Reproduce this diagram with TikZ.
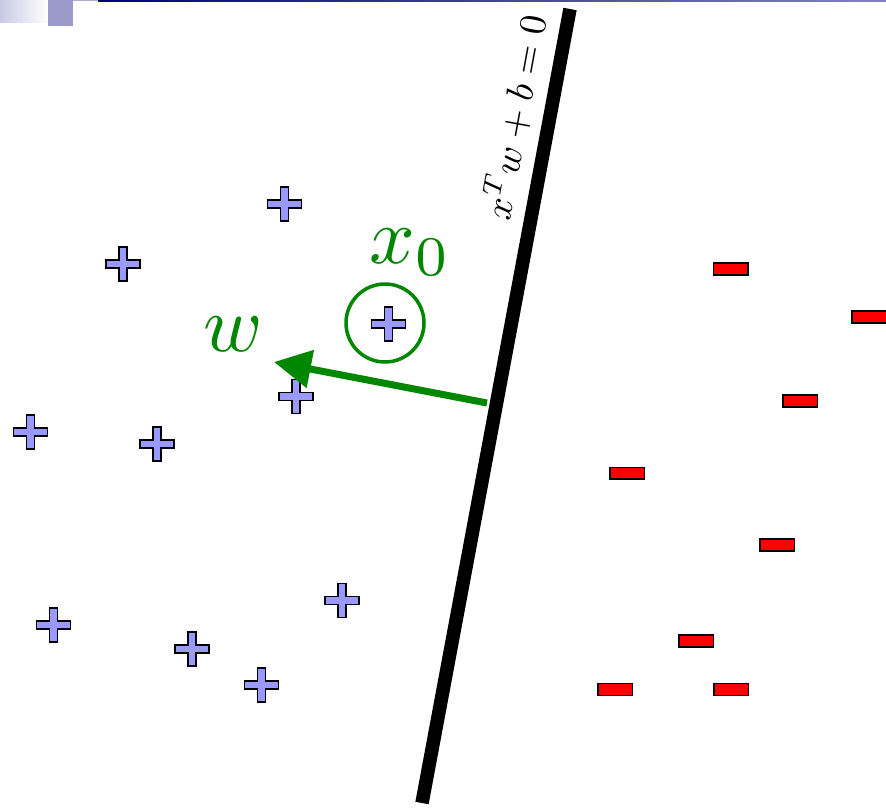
\documentclass[tikz,border=0pt]{standalone}
\usetikzlibrary{arrows.meta}
\definecolor{plusblue}{RGB}{153,153,255}
\definecolor{minusred}{RGB}{255,0,0}
\definecolor{svmgreen}{RGB}{0,135,0}
\definecolor{barlav}{RGB}{200,202,228}
\definecolor{sqlav}{RGB}{153,153,204}
\definecolor{navyline}{RGB}{0,0,128}
\definecolor{navyend}{RGB}{130,130,195}
\tikzset{
  plusstyle/.style={draw=black, line width=1.5pt, fill=plusblue, line join=miter},
  plussign/.pic={
    \draw[plusstyle] (-4,-17) -- (4,-17) -- (4,-4) -- (17,-4) -- (17,4) -- (4,4)
      -- (4,17) -- (-4,17) -- (-4,4) -- (-17,4) -- (-17,-4) -- (-4,-4) -- cycle;
  },
  minusbox/.style={draw=black, line width=1.5pt, fill=minusred, rectangle,
    minimum width=34.5pt, minimum height=11.8pt, inner sep=0pt},
  greenlabel/.style={text=svmgreen, inner sep=0pt, scale=8},
}
\begin{document}
\begin{tikzpicture}[x=1pt,y=-1pt]
\useasboundingbox (0,0) rectangle (886,807);
\fill[white] (0,0) rectangle (886,807);
% top decoration
\shade[left color=barlav, right color=white] (0,0) rectangle (48,22);
\fill[sqlav] (48,0) rectangle (73,26);
\fill[sqlav!80] (73,0) rectangle (98,1.4);
\shade[left color=navyline, right color=navyend] (98,0) rectangle (886,1.4);
% separating line
\coordinate (ltop) at (570,9);
\coordinate (lbot) at (422,803);
\draw[line width=13.5pt] (ltop) -- (lbot);
\node[rotate=79.6, scale=3.8, inner sep=0pt] (eq) at (514,117) {$x^Tw+b=0$};
% positive points
\pic (p1) at (284.5,204) {plussign};
\pic (p2) at (122.8,264) {plussign};
\pic (p3) at (388.5,324) {plussign};
\pic (p4) at (295.8,396.5) {plussign};
\pic (p5) at (30.5,432) {plussign};
\pic (p6) at (157,444) {plussign};
\pic (p7) at (342,600.7) {plussign};
\pic (p8) at (53.7,625) {plussign};
\pic (p9) at (192,649) {plussign};
\pic (p10) at (261.3,685) {plussign};
% negative points
\node[minusbox] (m1) at (730.7,269) {};
\node[minusbox] (m2) at (869,317) {};
\node[minusbox] (m3) at (800,401) {};
\node[minusbox] (m4) at (627,473.3) {};
\node[minusbox] (m5) at (777,545) {};
\node[minusbox] (m6) at (696,641) {};
\node[minusbox] (m7) at (615,689.5) {};
\node[minusbox] (m8) at (731,689.5) {};
% x0 circle and label
\node[circle, draw=svmgreen, line width=3.5pt, minimum size=78pt, inner sep=0pt] (c0) at (385,323) {};
\node[greenlabel, anchor=base west] (x0) at (368,263) {$x_0$};
% normal vector
\coordinate (wstart) at (487,403);
\coordinate (wtip) at (274,362);
\draw[svmgreen, line width=7pt, -{Triangle[length=37pt,width=37pt]}] (wstart) -- (wtip);
\node[greenlabel, anchor=base west] (wlab) at (202,351) {$w$};
\end{tikzpicture}
\end{document}
